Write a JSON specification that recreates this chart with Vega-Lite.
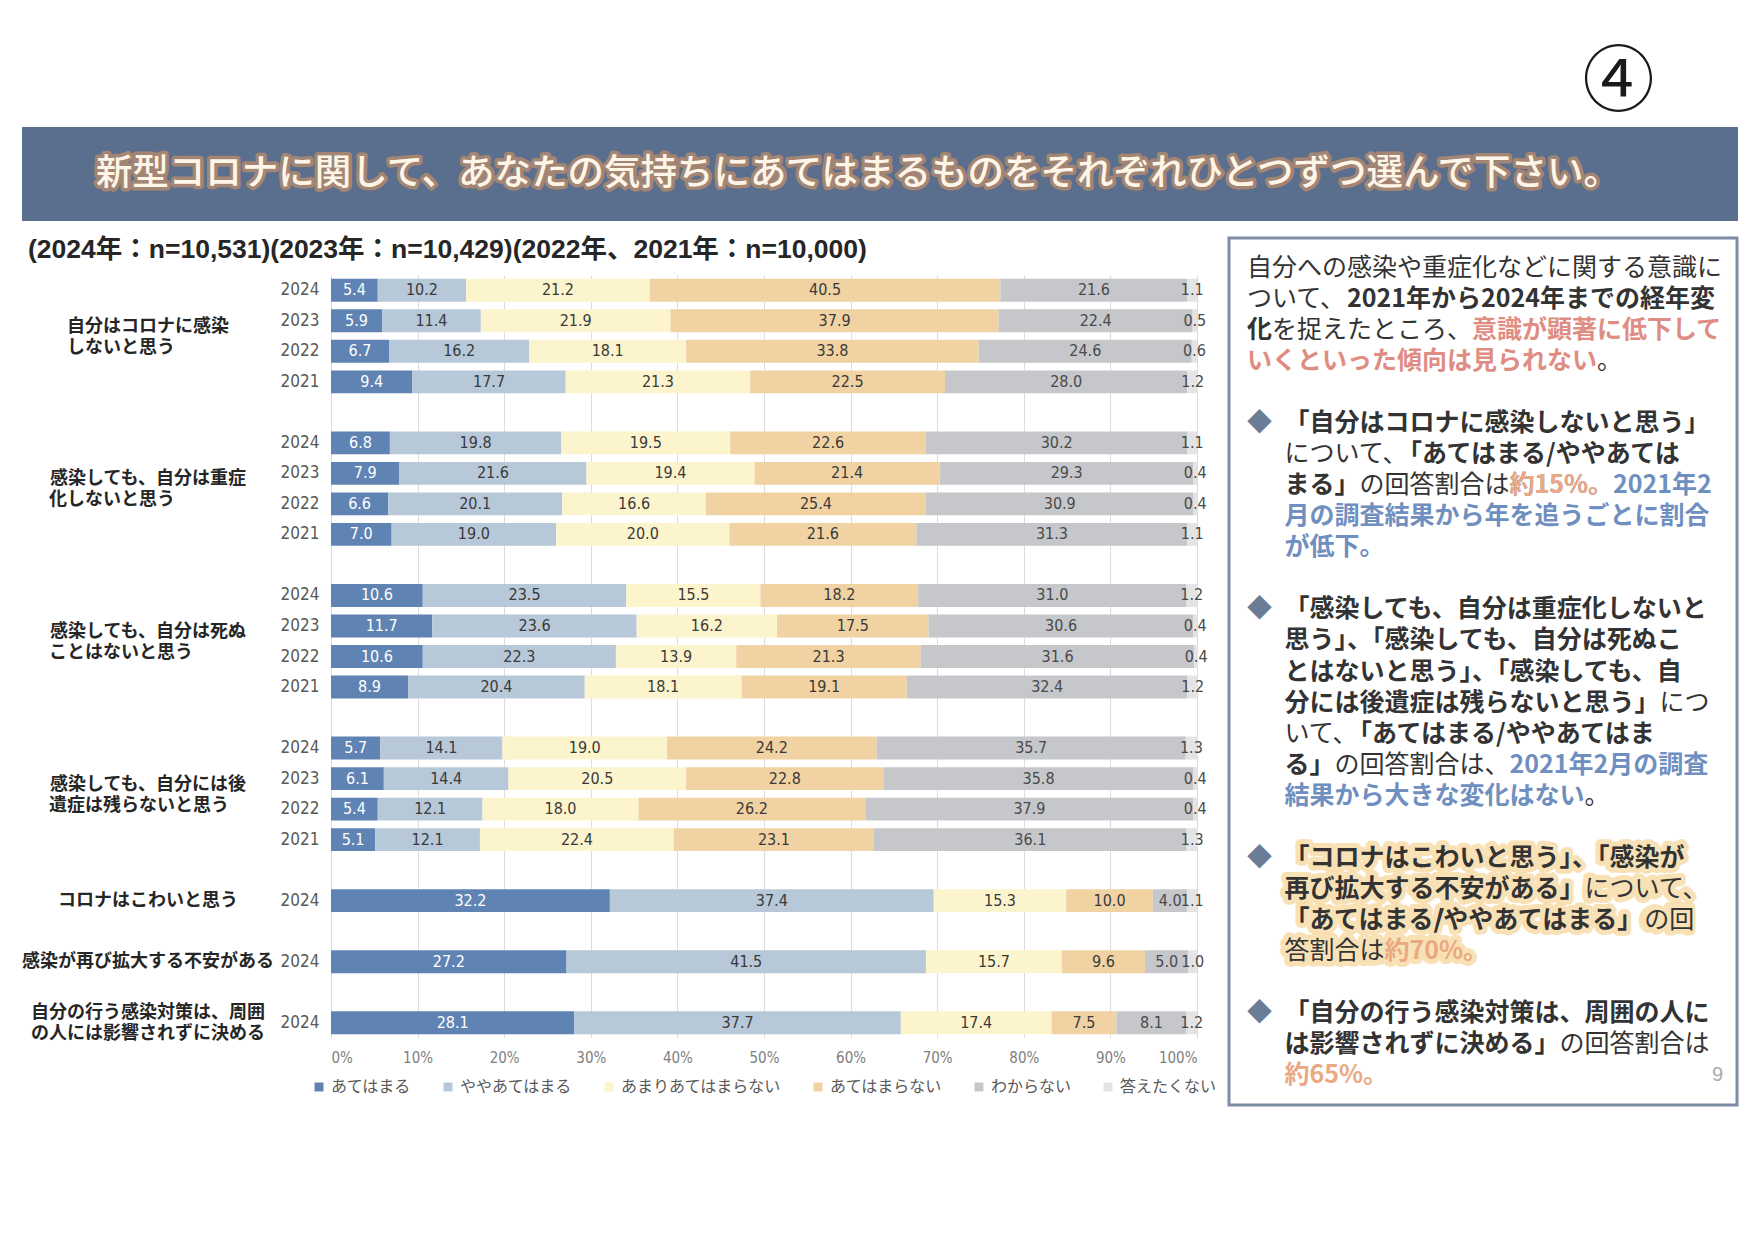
{
  "$schema": "https://vega.github.io/schema/vega-lite/v6.json",
  "background": "white",
  "padding": {"left": 22, "top": 47, "right": 16, "bottom": 0},
  "config": {"view": {"stroke": null}, "font": "Noto Sans CJK JP", "legend": {"layout": {"bottom": {"anchor": "middle"}}}},
  "title": {"text": "④", "anchor": "end", "dx": -84, "fontSize": 72, "font": "Noto Sans CJK JP", "fontWeight": "normal", "color": "#1a1a1a", "offset": 7},
  "datasets": {
    "bars": [
      {"r": "q1 2024", "あてはまる": 5.4, "ややあてはまる": 10.2, "あまりあてはまらない": 21.2, "あてはまらない": 40.5, "わからない": 21.6, "答えたくない": 1.1},
      {"r": "q1 2023", "あてはまる": 5.9, "ややあてはまる": 11.4, "あまりあてはまらない": 21.9, "あてはまらない": 37.9, "わからない": 22.4, "答えたくない": 0.5},
      {"r": "q1 2022", "あてはまる": 6.7, "ややあてはまる": 16.2, "あまりあてはまらない": 18.1, "あてはまらない": 33.8, "わからない": 24.6, "答えたくない": 0.6},
      {"r": "q1 2021", "あてはまる": 9.4, "ややあてはまる": 17.7, "あまりあてはまらない": 21.3, "あてはまらない": 22.5, "わからない": 28.0, "答えたくない": 1.2},
      {"r": "q2 2024", "あてはまる": 6.8, "ややあてはまる": 19.8, "あまりあてはまらない": 19.5, "あてはまらない": 22.6, "わからない": 30.2, "答えたくない": 1.1},
      {"r": "q2 2023", "あてはまる": 7.9, "ややあてはまる": 21.6, "あまりあてはまらない": 19.4, "あてはまらない": 21.4, "わからない": 29.3, "答えたくない": 0.4},
      {"r": "q2 2022", "あてはまる": 6.6, "ややあてはまる": 20.1, "あまりあてはまらない": 16.6, "あてはまらない": 25.4, "わからない": 30.9, "答えたくない": 0.4},
      {"r": "q2 2021", "あてはまる": 7.0, "ややあてはまる": 19.0, "あまりあてはまらない": 20.0, "あてはまらない": 21.6, "わからない": 31.3, "答えたくない": 1.1},
      {"r": "q3 2024", "あてはまる": 10.6, "ややあてはまる": 23.5, "あまりあてはまらない": 15.5, "あてはまらない": 18.2, "わからない": 31.0, "答えたくない": 1.2},
      {"r": "q3 2023", "あてはまる": 11.7, "ややあてはまる": 23.6, "あまりあてはまらない": 16.2, "あてはまらない": 17.5, "わからない": 30.6, "答えたくない": 0.4},
      {"r": "q3 2022", "あてはまる": 10.6, "ややあてはまる": 22.3, "あまりあてはまらない": 13.9, "あてはまらない": 21.3, "わからない": 31.6, "答えたくない": 0.4},
      {"r": "q3 2021", "あてはまる": 8.9, "ややあてはまる": 20.4, "あまりあてはまらない": 18.1, "あてはまらない": 19.1, "わからない": 32.4, "答えたくない": 1.2},
      {"r": "q4 2024", "あてはまる": 5.7, "ややあてはまる": 14.1, "あまりあてはまらない": 19.0, "あてはまらない": 24.2, "わからない": 35.7, "答えたくない": 1.3},
      {"r": "q4 2023", "あてはまる": 6.1, "ややあてはまる": 14.4, "あまりあてはまらない": 20.5, "あてはまらない": 22.8, "わからない": 35.8, "答えたくない": 0.4},
      {"r": "q4 2022", "あてはまる": 5.4, "ややあてはまる": 12.1, "あまりあてはまらない": 18.0, "あてはまらない": 26.2, "わからない": 37.9, "答えたくない": 0.4},
      {"r": "q4 2021", "あてはまる": 5.1, "ややあてはまる": 12.1, "あまりあてはまらない": 22.4, "あてはまらない": 23.1, "わからない": 36.1, "答えたくない": 1.3},
      {"r": "q5 2024", "あてはまる": 32.2, "ややあてはまる": 37.4, "あまりあてはまらない": 15.3, "あてはまらない": 10.0, "わからない": 4.0, "答えたくない": 1.1},
      {"r": "q6 2024", "あてはまる": 27.2, "ややあてはまる": 41.5, "あまりあてはまらない": 15.7, "あてはまらない": 9.6, "わからない": 5.0, "答えたくない": 1.0},
      {"r": "q7 2024", "あてはまる": 28.1, "ややあてはまる": 37.7, "あまりあてはまらない": 17.4, "あてはまらない": 7.5, "わからない": 8.1, "答えたくない": 1.2}
    ],
    "glabels": [
      {"r": "q1 2023", "t": "自分はコロナに感染\nしないと思う　　　\u200b"},
      {"r": "q2 2023", "t": "感染しても、自分は重症\n化しないと思う　　　　\u200b"},
      {"r": "q3 2023", "t": "感染しても、自分は死ぬ\nことはないと思う　　　\u200b"},
      {"r": "q4 2023", "t": "感染しても、自分には後\n遺症は残らないと思う　\u200b"}
    ],
    "slabels": [
      {"r": "q5 2024", "t": "コロナはこわいと思う"},
      {"r": "q6 2024", "t": "感染が再び拡大する不安がある"}
    ],
    "mlabels": [
      {"r": "q7 2024", "t": "自分の行う感染対策は、周囲\nの人には影響されずに決める"}
    ],
    "th": [
      {"line": 19, "t": "\u200b\u3000\u2002「コロナはこわいと思う」、「感染が"},
      {"line": 20, "t": "\u200b\u3000\u2002再び拡大する不安がある」について、"},
      {"line": 21, "t": "\u200b\u3000\u2002「あてはまる/ややあてはまる」の回"},
      {"line": 22, "t": "\u200b\u3000\u2002答割合は約70%。"}
    ],
    "tn": [
      {"line": 0, "t": "自分への感染や重症化などに関する意識に"},
      {"line": 1, "t": "ついて、"},
      {"line": 2, "t": "\u200b　を捉えたところ、"},
      {"line": 3, "t": "\u200b　　　　　　　　　　　　　　。"},
      {"line": 6, "t": "\u200b\u3000\u2002について、"},
      {"line": 7, "t": "\u200b\u3000\u2002　　　の回答割合は"},
      {"line": 14, "t": "\u200b\u3000\u2002　　　　　　　　　　　　　　　につ"},
      {"line": 15, "t": "\u200b\u3000\u2002いて、"},
      {"line": 16, "t": "\u200b\u3000\u2002　　の回答割合は、"},
      {"line": 17, "t": "\u200b\u3000\u2002　　　　　　　　　　　　。"},
      {"line": 20, "t": "\u200b\u3000\u2002　　　　　　　　　　　　について、"},
      {"line": 21, "t": "\u200b\u3000\u2002　　　　　　/　　　　　　　　の回"},
      {"line": 22, "t": "\u200b\u3000\u2002答割合は"},
      {"line": 25, "t": "\u200b\u3000\u2002　　　　　　　　　　　の回答割合は"}
    ],
    "tl": [
      {"line": 7, "t": "\u200b\u3000\u2002　　　　　　　　　約15%。2021年2"},
      {"line": 8, "t": "\u200b\u3000\u2002月の調査結果から年を追うごとに割合"},
      {"line": 9, "t": "\u200b\u3000\u2002が低下。"},
      {"line": 16, "t": "\u200b\u3000\u2002　　　　　　　　　2021年2月の調査"},
      {"line": 17, "t": "\u200b\u3000\u2002結果から大きな変化はない"}
    ],
    "tr": [
      {"line": 2, "t": "\u200b　　　　　　　　　意識が顕著に低下して"},
      {"line": 3, "t": "いくといった傾向は見られない"}
    ],
    "tb": [
      {"line": 1, "t": "\u200b　　　　2021年から2024年までの経年変"},
      {"line": 2, "t": "化"},
      {"line": 5, "t": "\u200b\u3000\u2002「自分はコロナに感染しないと思う」"},
      {"line": 6, "t": "\u200b\u3000\u2002　　　　　「あてはまる/ややあては"},
      {"line": 7, "t": "\u200b\u3000\u2002まる」"},
      {"line": 11, "t": "\u200b\u3000\u2002「感染しても、自分は重症化しないと"},
      {"line": 12, "t": "\u200b\u3000\u2002思う」、「感染しても、自分は死ぬこ"},
      {"line": 13, "t": "\u200b\u3000\u2002とはないと思う」、「感染しても、自"},
      {"line": 14, "t": "\u200b\u3000\u2002分には後遺症は残らないと思う」"},
      {"line": 15, "t": "\u200b\u3000\u2002　　　「あてはまる/ややあてはま"},
      {"line": 16, "t": "\u200b\u3000\u2002る」"},
      {"line": 19, "t": "\u200b\u3000\u2002「コロナはこわいと思う」、「感染が"},
      {"line": 20, "t": "\u200b\u3000\u2002再び拡大する不安がある」"},
      {"line": 21, "t": "\u200b\u3000\u2002「あてはまる/ややあてはまる」"},
      {"line": 24, "t": "\u200b\u3000\u2002「自分の行う感染対策は、周囲の人に"},
      {"line": 25, "t": "\u200b\u3000\u2002は影響されずに決める」"}
    ],
    "to": [
      {"line": 7, "t": "\u200b\u3000\u2002　　　　　　　　　約15%。"},
      {"line": 22, "t": "\u200b\u3000\u2002　　　　約70%。"},
      {"line": 26, "t": "\u200b\u3000\u2002約65%。"}
    ],
    "td": [
      {"line": 5, "t": "◆"},
      {"line": 11, "t": "◆"},
      {"line": 19, "t": "◆"},
      {"line": 24, "t": "◆"}
    ],
    "tp": [
      {"line": 26, "t": "9"}
    ]
  },
  "spacing": 15,
  "vconcat": [
    {
      "width": 1716,
      "height": 94,
      "view": {"fill": "#5a6e8d", "stroke": null},
      "data": {"values": [{"t": "新型コロナに関して、あなたの気持ちにあてはまるものをそれぞれひとつずつ選んで下さい。"}]},
      "layer": [
        {"mark": {"type": "text", "fontSize": 36.5, "fontWeight": 500, "font": "Noto Sans CJK JP", "dx": -22, "fill": "#e0995e", "stroke": "#e0995e", "strokeWidth": 7, "strokeJoin": "round", "opacity": 0.55}, "encoding": {"text": {"field": "t", "type": "nominal"}}},
        {"mark": {"type": "text", "fontSize": 36.5, "fontWeight": 500, "font": "Noto Sans CJK JP", "dx": -22, "fill": "#fdf5e8"}, "encoding": {"text": {"field": "t", "type": "nominal"}}}
      ]
    },
    {
      "spacing": 10,
      "hconcat": [
        {
          "spacing": 11,
          "vconcat": [
            {
              "width": 860,
              "height": 24,
              "data": {"values": [{"t": "(2024年：n=10,531)(2023年：n=10,429)(2022年、2021年：n=10,000)"}]},
              "mark": {"type": "text", "align": "left", "baseline": "middle", "dx": 6, "font": "Liberation Sans, Noto Sans CJK JP", "fontSize": 26.5, "fontWeight": "bold", "fill": "#262626"},
              "encoding": {
                "x": {"datum": 0, "type": "quantitative", "scale": {"domain": [0, 1]}, "axis": null},
                "text": {"field": "t", "type": "nominal"}
              }
            },
            {
              "spacing": 4,
              "hconcat": [
                {
                  "width": 252,
                  "height": 763,
                  "encoding": {
                    "y": {"field": "r", "type": "nominal", "scale": {"domain": ["q1 2024", "q1 2023", "q1 2022", "q1 2021", "gap1", "q2 2024", "q2 2023", "q2 2022", "q2 2021", "gap2", "q3 2024", "q3 2023", "q3 2022", "q3 2021", "gap3", "q4 2024", "q4 2023", "q4 2022", "q4 2021", "gap4", "q5 2024", "gap5", "q6 2024", "gap6", "q7 2024"], "paddingInner": 0.25, "paddingOuter": 0.125}, "axis": null},
                    "text": {"field": "t", "type": "nominal"}
                  },
                  "layer": [
                    {"data": {"name": "glabels"}, "mark": {"type": "text", "font": "Noto Sans CJK JP", "fontWeight": "bold", "fontSize": 18, "fill": "#262626", "lineBreak": "\n", "lineHeight": 21, "dy": 6, "baseline": "middle"}},
                    {"data": {"name": "slabels"}, "mark": {"type": "text", "font": "Noto Sans CJK JP", "fontWeight": "bold", "fontSize": 18, "fill": "#262626", "baseline": "middle"}},
                    {"data": {"name": "mlabels"}, "mark": {"type": "text", "font": "Noto Sans CJK JP", "fontWeight": "bold", "fontSize": 18, "fill": "#262626", "lineBreak": "\n", "lineHeight": 21, "dy": -10, "baseline": "middle"}}
                  ]
                },
                {
                  "width": 866,
                  "height": 763,
                  "data": {"name": "bars"},
                  "transform": [
                    {"fold": ["あてはまる", "ややあてはまる", "あまりあてはまらない", "あてはまらない", "わからない", "答えたくない"], "as": ["c", "v"]},
                    {"window": [{"op": "row_number", "as": "k"}], "groupby": ["r"]}
                  ],
                  "encoding": {
                    "y": {"field": "r", "type": "nominal", "scale": {"domain": ["q1 2024", "q1 2023", "q1 2022", "q1 2021", "gap1", "q2 2024", "q2 2023", "q2 2022", "q2 2021", "gap2", "q3 2024", "q3 2023", "q3 2022", "q3 2021", "gap3", "q4 2024", "q4 2023", "q4 2022", "q4 2021", "gap4", "q5 2024", "gap5", "q6 2024", "gap6", "q7 2024"], "paddingInner": 0.25, "paddingOuter": 0.125},
                      "axis": {"title": null, "ticks": false, "domain": false, "grid": false, "labelFont": "DejaVu Sans Condensed, Liberation Sans", "labelFontSize": 17, "labelColor": "#595959", "labelPadding": 12, "minExtent": 53, "maxExtent": 53, "labelExpr": "length(datum.value) > 5 ? slice(datum.value, 3) : ''"}},
                    "order": {"field": "k", "type": "quantitative"}
                  },
                  "layer": [
                    {
                      "mark": {"type": "bar"},
                      "encoding": {
                        "x": {"field": "v", "type": "quantitative", "stack": "zero", "scale": {"domain": [0, 100]},
                          "axis": {"title": null, "values": [0, 10, 20, 30, 40, 50, 60, 70, 80, 90, 100], "labelExpr": "datum.value + '%'", "grid": true, "gridColor": "#dcdcdc", "ticks": false, "domain": false, "labelFont": "DejaVu Sans Condensed, Liberation Sans", "labelFontSize": 15, "labelColor": "#808080", "labelPadding": 12}},
                        "color": {"field": "c", "type": "nominal", "sort": ["あてはまる", "ややあてはまる", "あまりあてはまらない", "あてはまらない", "わからない", "答えたくない"],
                          "scale": {"domain": ["あてはまる", "ややあてはまる", "あまりあてはまらない", "あてはまらない", "わからない", "答えたくない"], "range": ["#5f84b4", "#b7c8d9", "#fcf4cd", "#f1d3a3", "#c5c7cb", "#e4e4e4"]},
                          "legend": {"orient": "bottom", "direction": "horizontal", "title": null, "symbolType": "square", "symbolSize": 80, "symbolStrokeWidth": 0, "labelFont": "Noto Sans CJK JP", "labelFontSize": 16, "labelColor": "#595959", "labelLimit": 400, "columnPadding": 28, "labelOffset": 4, "offset": 14}}
                      }
                    },
                    {
                      "mark": {"type": "text", "font": "DejaVu Sans Condensed, Liberation Sans", "fontSize": 16, "baseline": "middle", "align": "center"},
                      "encoding": {
                        "x": {"field": "v", "type": "quantitative", "stack": "zero", "bandPosition": 0.5},
                        "text": {"field": "v", "type": "quantitative", "format": ".1f"},
                        "color": {"field": "c", "type": "nominal", "sort": ["あてはまる", "ややあてはまる", "あまりあてはまらない", "あてはまらない", "わからない", "答えたくない"],
                          "scale": {"domain": ["あてはまる", "ややあてはまる", "あまりあてはまらない", "あてはまらない", "わからない", "答えたくない"], "range": ["#ffffff", "#3a3a3a", "#3a3a3a", "#3a3a3a", "#4a4a4a", "#4a4a4a"]},
                          "legend": null}
                      }
                    }
                  ],
                  "resolve": {"scale": {"color": "independent"}}
                }
              ]
            }
          ]
        },
        {
          "width": 508,
          "height": 867,
          "view": {"stroke": "#7e8ca5", "strokeWidth": 3, "fill": "#ffffff"},
          "encoding": {
            "x": {"datum": 0, "type": "quantitative", "scale": {"domain": [0, 1]}, "axis": null},
            "y": {"field": "line", "type": "ordinal", "scale": {"type": "point", "domain": [0, 1, 2, 3, 4, 5, 6, 7, 8, 9, 10, 11, 12, 13, 14, 15, 16, 17, 18, 19, 20, 21, 22, 23, 24, 25, 26], "padding": 0.98}, "axis": null},
            "text": {"field": "t", "type": "nominal"}
          },
          "layer": [
            {"data": {"name": "th"}, "mark": {"type": "text", "align": "left", "baseline": "middle", "dx": 18, "fontSize": 25, "font": "Noto Sans CJK JP", "fontWeight": "bold", "fill": "#f9dcaa", "stroke": "#f9dcaa", "strokeWidth": 10, "strokeJoin": "round", "opacity": 0.85}},
            {"data": {"name": "tn"}, "mark": {"type": "text", "align": "left", "baseline": "middle", "dx": 18, "fontSize": 25, "font": "Noto Sans CJK JP", "fontWeight": "normal", "fill": "#333333"}},
            {"data": {"name": "tl"}, "mark": {"type": "text", "align": "left", "baseline": "middle", "dx": 18, "fontSize": 25, "font": "Noto Sans CJK JP", "fontWeight": "bold", "fill": "#6f8fc0"}},
            {"data": {"name": "tr"}, "mark": {"type": "text", "align": "left", "baseline": "middle", "dx": 18, "fontSize": 25, "font": "Noto Sans CJK JP", "fontWeight": "bold", "fill": "#df8d83"}},
            {"data": {"name": "tb"}, "mark": {"type": "text", "align": "left", "baseline": "middle", "dx": 18, "fontSize": 25, "font": "Noto Sans CJK JP", "fontWeight": "bold", "fill": "#333333"}},
            {"data": {"name": "to"}, "mark": {"type": "text", "align": "left", "baseline": "middle", "dx": 18, "fontSize": 25, "font": "Noto Sans CJK JP", "fontWeight": "bold", "fill": "#eaa883"}},
            {"data": {"name": "td"}, "mark": {"type": "text", "align": "left", "baseline": "middle", "dx": 18, "fontSize": 25, "font": "Noto Sans CJK JP", "fill": "#6b7d96"}},
            {"data": {"name": "tp"}, "mark": {"type": "text", "align": "right", "baseline": "middle", "dx": -14, "fontSize": 20, "font": "Liberation Sans", "fill": "#aaaaaa"}, "encoding": {"x": {"datum": 1, "type": "quantitative"}}}
          ]
        }
      ]
    }
  ]
}
